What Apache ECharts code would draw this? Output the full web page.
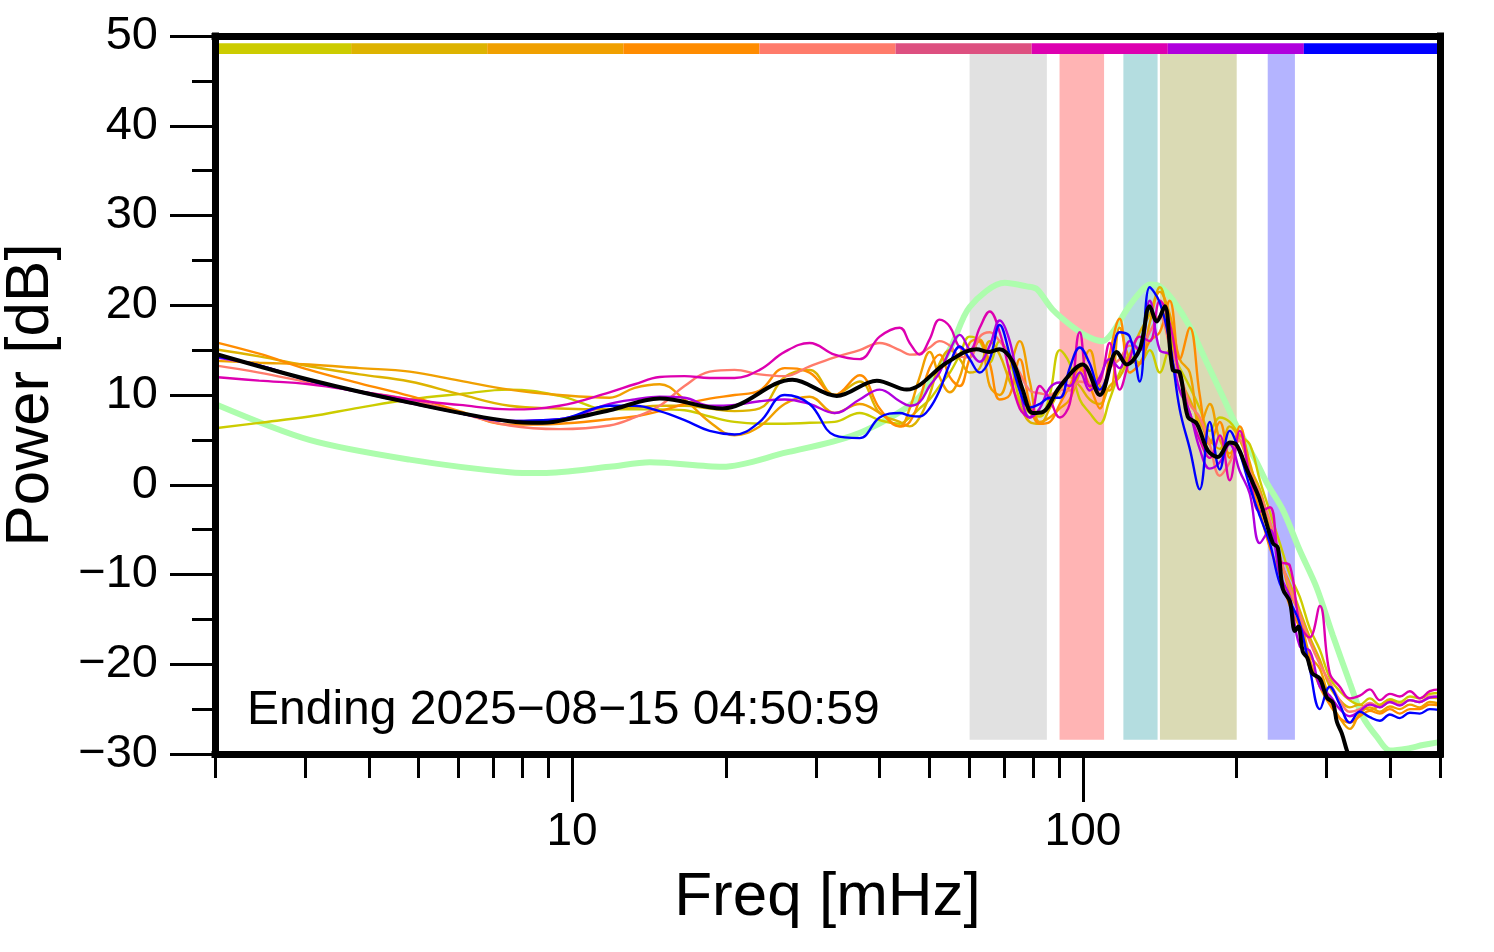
<!DOCTYPE html>
<html><head><meta charset="utf-8">
<script src="https://cdn.jsdelivr.net/npm/echarts@6/dist/echarts.min.js"></script>
<style>html,body{margin:0;padding:0;background:#fff}#c{width:1494px;height:952px}</style>
</head><body><div id="c"></div>
<script>
// ---------- DATA ----------
const annotation = 'Ending 2025\u221208\u221215 04:50:59';
const xTitle = 'Freq [mHz]';
const yTitle = 'Power [dB]';

const minorTickFreqs = [2,3,4,5,6,7,8,9,20,30,40,50,60,70,80,90,200,300,400,500];
const majorTickFreqs = [10,100];

// shared frequency grid (mHz) for the daily spectra
const freqs = [2.0,2.44,3.06,3.84,4.81,6.02,7.54,9.45,
  11.84,13.26,14.84,16.6,18.59,20.8,23.29,26.07,29.17,32.66,36.55,40.0,
  43.8,45.8,47.9,50.1,52.4,54.9,57.4,60.0,62.8,65.7,
  68.7,71.9,75.2,78.7,82.3,86.1,90.1,94.2,98.6,103.1,
  107.9,112.8,118.0,123.5,129.2,135.1,141.4,147.9,154.7,161.9,
  169.3,177.1,185.3,193.8,202.8,212.1,222.0,232.2,242.9,254.1,
  265.8,278.0,290.9,304.2,318.3,333.0,
  348.3,364.4,381.2,398.8,417.2,436.4,456.4,477.5,500];

const day1 = [6.3,6.9,7.6,8.6,9.5,10.1,10.6,9.9,
  8.4,8.4,8.4,8.3,7.6,7.0,6.8,6.8,6.9,7.0,8.0,7.2,
  6.8,7.5,8.5,9.5,11.0,12.5,14.5,16.5,16.0,13.6,
  16.0,14.0,9.5,8.0,7.6,10.0,15.0,13.5,9.5,8.0,
  6.8,9.5,12.5,14.3,13.6,15.0,12.5,15.0,13.0,10.9,
  8.5,6.0,7.5,7.0,5.5,4.5,0.5,-3.0,-6.5,-10.0,
  -12.5,-16.0,-18.4,-21.5,-23.0,-24.0,
  -24.5,-23.8,-24.5,-23.9,-24.2,-23.6,-23.8,-23.3,-23.2];
const day2 = [15.1,14.3,13.2,12.3,11.5,10.1,8.8,8.5,
  8.4,8.6,8.8,8.8,8.5,8.2,8.5,12.0,12.8,10.0,11.5,8.0,
  7.0,6.5,7.5,10.0,13.5,15.0,14.0,12.5,13.0,16.0,
  14.5,11.5,9.0,7.0,6.8,8.5,10.5,12.0,11.0,9.5,
  9.0,11.0,12.0,14.5,17.0,19.0,22.0,17.0,12.0,9.5,
  7.0,5.0,4.0,6.5,5.0,2.0,-0.5,-4.5,-8.5,-11.0,
  -14.0,-17.0,-19.5,-22.5,-24.0,-24.8,
  -24.5,-25.1,-24.6,-24.0,-24.5,-24.0,-24.2,-23.7,-23.8];
const day3 = [13.8,13.6,13.4,13.0,12.6,11.6,10.6,10.0,
  9.7,10.8,11.2,9.5,7.0,5.5,6.5,9.0,9.8,8.0,9.0,8.0,
  6.5,8.5,12.0,14.8,12.0,10.3,12.0,15.8,16.2,11.0,
  10.0,13.0,16.0,11.5,7.0,7.5,8.5,9.5,12.5,15.0,
  11.0,10.5,17.5,14.0,13.5,18.0,21.5,19.0,14.0,12.5,
  6.5,9.0,5.0,3.5,5.5,2.5,-2.0,-5.5,-8.0,-12.0,
  -14.5,-19.0,-20.5,-24.0,-26.0,-27.2,
  -25.5,-24.8,-25.3,-24.7,-25.0,-24.5,-24.8,-24.2,-24.4];
const day4 = [15.9,14.6,12.8,11.3,9.9,8.2,6.7,6.8,
  7.3,7.6,8.2,9.0,9.6,10.0,10.5,13.0,12.5,10.0,12.2,8.5,
  6.5,7.0,9.5,13.0,14.5,12.0,11.0,14.0,16.0,13.5,
  9.5,10.0,14.0,9.0,6.8,7.0,9.0,11.0,13.0,11.0,
  8.5,14.5,18.5,12.5,13.5,16.0,17.0,20.5,14.0,17.5,
  10.0,4.5,7.0,3.0,6.5,1.0,-3.0,-7.0,-10.0,-13.5,
  -16.0,-19.5,-22.5,-24.5,-26.0,-26.5,
  -25.8,-25.2,-25.5,-25.0,-25.5,-25.0,-25.0,-24.5,-24.6];
const day5 = [13.3,12.5,11.4,10.4,9.5,8.0,6.6,6.2,
  6.6,7.5,8.8,11.0,12.6,12.8,12.3,12.1,13.2,14.2,15.0,15.8,
  15.0,14.5,14.6,15.3,16.0,15.5,14.3,14.2,16.5,17.0,
  16.0,14.5,12.5,10.5,10.2,10.0,10.6,10.5,11.5,11.2,
  10.5,13.0,14.0,15.5,15.0,17.0,18.8,15.5,12.5,9.0,
  7.5,4.5,1.0,2.5,5.0,1.5,-1.0,-4.0,-8.0,-11.5,
  -14.5,-17.5,-20.0,-22.0,-24.0,-25.3,
  -25.0,-24.3,-24.8,-24.2,-24.5,-24.0,-24.2,-23.6,-23.7];
const day7 = [12.0,11.6,11.2,10.4,9.5,8.9,8.4,8.8,
  10.3,11.2,12.0,12.1,11.9,11.9,12.8,14.8,15.8,14.5,14.0,16.5,
  17.5,15.8,14.5,16.2,18.4,17.6,15.3,15.0,17.5,19.3,
  17.0,12.5,8.5,7.5,11.0,9.5,7.5,9.0,17.0,11.0,
  11.5,15.8,10.6,14.0,16.5,16.0,20.5,18.0,12.0,8.0,
  5.0,3.0,5.5,0.5,6.0,1.0,-3.0,-2.5,-8.5,-9.0,
  -15.5,-17.0,-13.5,-21.0,-22.5,-23.8,
  -23.5,-22.8,-24.0,-23.3,-23.6,-23.0,-23.8,-23.0,-22.8];
const day8 = [14.2,13.3,11.6,10.3,9.1,8.0,7.1,7.3,
  9.0,9.5,9.8,9.7,8.8,8.9,9.3,9.5,9.0,8.0,9.5,10.6,
  9.3,8.8,9.2,11.0,12.5,15.0,16.7,15.0,13.7,15.5,
  18.3,16.0,10.6,7.5,8.5,10.8,11.4,11.0,12.5,10.5,
  12.0,14.0,13.0,16.0,15.0,20.5,15.0,14.5,10.5,8.0,
  4.0,1.8,2.5,4.5,1.5,-1.0,-6.5,-5.0,-10.0,-12.5,
  -18.0,-18.5,-22.5,-23.5,-25.0,-25.8,
  -25.2,-24.5,-24.8,-24.2,-24.6,-24.0,-24.2,-23.7,-23.6];
const day9 = [14.3,13.3,11.6,10.4,9.2,8.0,7.1,7.3,
  8.8,8.8,8.2,7.2,6.0,5.6,7.0,10.0,9.0,5.5,5.2,7.5,
  8.0,7.7,7.6,8.5,10.5,13.5,15.4,14.0,12.5,14.0,
  17.8,14.5,10.5,8.6,9.0,9.7,9.7,13.0,15.3,13.5,
  10.6,13.0,17.0,16.5,11.5,22.0,20.3,15.8,8.4,4.0,
  -0.5,7.0,1.7,6.0,3.5,-0.2,-3.5,-6.5,-11.0,-13.0,
  -15.5,-20.5,-25.0,-22.5,-24.5,-26.5,
  -25.3,-25.9,-26.3,-25.6,-26.0,-25.4,-25.5,-25.0,-25.1];

// average spectrum [freq mHz, dB]
const averageSpectrum = [[2.0,14.6],[3.06,11.7],[4.81,9.15],[7.54,7.07],[8.75,6.9],[10.2,7.5],[11.84,8.3],
  [14.84,9.6],[19.7,8.5],[27.0,11.7],[32.96,9.9],[39.5,11.6],[45.2,10.6],[54.1,13.6],[61.9,15.1],
  [65.5,14.8],[68.7,15.1],[72.9,13.7],[76.2,10.6],[79.7,8.0],[83.4,8.1],[90.0,10.9],[99.9,13.4],
  [107.9,10.0],[116.5,14.8],[121.8,13.4],[129.2,15.1],[135.1,19.9],[139.5,18.2],[144.6,19.9],
  [149.9,12.8],[154.7,12.5],[160.4,7.6],[167.1,6.8],[175.6,3.8],[183.7,3.1],[193.9,4.7],[200.1,4.4],
  [209.4,1.7],[215.1,0.2],[222.0,-1.7],[235.3,-6.5],[240.7,-7.0],[246.2,-11.6],[254.1,-13.0],
  [260.0,-16.3],[264.0,-15.8],[269.4,-18.6],[275.0,-19.3],[281.0,-21.0],[290.9,-21.6],[300.2,-23.7],
  [308.5,-24.3],[314.1,-26.4],[321.2,-27.7],[328.6,-29.6],[336.1,-31.0]];

// reference spectrum [freq mHz, dB]
const referenceSpectrum = [[2.0,9.0],[3.06,5.0],[4.81,2.8],[7.54,1.4],[8.75,1.3],[11.84,2.0],[14.2,2.5],
  [19.7,2.0],[26.3,3.6],[32.4,4.8],[37.7,6.1],[47.3,9.5],[54.9,15.1],[60.0,19.8],[70.3,22.5],
  [77.6,22.1],[81.2,21.8],[87.3,19.5],[95.5,17.6],[103.1,16.4],[109.3,16.0],[114.4,17.0],[121.8,19.5],
  [129.2,21.4],[135.1,22.3],[141.4,22.1],[149.9,20.6],[161.9,17.6],[174.8,13.6],[187.9,9.8],
  [200.1,6.5],[218.9,2.5],[229.1,0.2],[246.2,-2.8],[265.7,-7.3],[286.9,-11.5],[308.5,-16.8],
  [333.1,-22.1],[353.3,-25.9],[376.3,-28.1],[399.0,-29.6],[430.9,-29.4],[463.0,-29.0],[495.5,-28.7],[500,-28.6]];

const bandRanges = [[60,85],[90,110],[120,140],[141.5,200],[230,260]];
const bandY = [-28.4, 48.0];
const barEdges = [2,3.694,6.822,12.60,23.27,42.98,79.37,146.6,270.7,500];
const barY = [48.0, 49.2];

// ---------- STYLE ----------
const dayColors = ['#cccc00','#ddb300','#f0a000','#ff8c00','#ff7b6b','#dd00b0','#b000dd','#0000ff'];
const barColors = ['#cccc00','#ddb300','#f0a000','#ff8c00','#ff7b6b','#dd5080','#dd00b0','#b000dd','#0000ff'];
const bandColors = ['#e1e1e1','#ffb4b4','#b4dde0','#dadab4','#b4b4ff'];
const FONT = '"Liberation Sans", Arial, Helvetica, sans-serif';

const lg = Math.log10;
const xMinL = lg(2), xMaxL = lg(500);
const minorTickVals = minorTickFreqs.map(lg);
const majorTickVals = majorTickFreqs.map(lg);

const days = [day1, day2, day3, day4, day5, day7, day8, day9];

const chart = echarts.init(document.getElementById('c'));

const areaData = bandRanges.map((r, i) => [
  {xAxis: r[0], yAxis: bandY[0], itemStyle: {color: bandColors[i], opacity: 1}},
  {xAxis: r[1], yAxis: bandY[1]}
]).concat(barColors.map((c, i) => [
  {xAxis: barEdges[i], yAxis: barY[0], itemStyle: {color: c, opacity: 1}},
  {xAxis: barEdges[i + 1], yAxis: barY[1]}
]));

const series = [{
  type: 'line', name: 'reference', data: referenceSpectrum, showSymbol: false, symbol: 'none',
  smooth: 0.3, silent: true, z: 2,
  lineStyle: {color: '#adfdad', width: 6}, itemStyle: {color: '#adfdad'},
  markArea: {silent: true, label: {show: false}, data: areaData}
}];
days.forEach((vals, i) => {
  series.push({
    type: 'line', name: 'day' + i, data: freqs.map((f, j) => [f, vals[j]]),
    showSymbol: false, symbol: 'none', smooth: 0.4, silent: true, z: 2,
    lineStyle: {color: dayColors[i], width: 2.4}, itemStyle: {color: dayColors[i]}
  });
});
series.push({
  type: 'line', name: 'average', data: averageSpectrum, showSymbol: false, symbol: 'none',
  smooth: 0.35, silent: true, z: 3,
  lineStyle: {color: '#000', width: 4}, itemStyle: {color: '#000'}
});

const frameLine = {show: true, onZero: false, lineStyle: {color: '#000', width: 7, cap: 'square'}};

chart.setOption({
  animation: false,
  backgroundColor: '#fff',
  title: {text: annotation, left: 247, top: 687, padding: 0,
    textStyle: {fontSize: 48, fontWeight: 'normal', color: '#000', fontFamily: FONT}},
  grid: {left: 215, right: 54, top: 36, bottom: 198, containLabel: false, outerBoundsMode: 'none'},
  xAxis: [
    {type: 'log', logBase: 10, min: 2, max: 500, position: 'bottom', z: 10,
      axisLine: frameLine, axisTick: {show: false}, axisLabel: {show: false}, splitLine: {show: false}},
    {type: 'value', min: xMinL, max: xMaxL, position: 'bottom', z: 10,
      axisLine: {show: false, onZero: false},
      axisTick: {show: true, customValues: minorTickVals, length: 24, lineStyle: {color: '#000', width: 3}},
      axisLabel: {show: false}, splitLine: {show: false}},
    {type: 'value', min: xMinL, max: xMaxL, position: 'bottom', z: 10,
      name: xTitle, nameLocation: 'middle', nameGap: 113,
      nameTextStyle: {fontSize: 62, color: '#000', fontFamily: FONT},
      axisLine: {show: false, onZero: false},
      axisTick: {show: true, customValues: majorTickVals, length: 48, lineStyle: {color: '#000', width: 3}},
      axisLabel: {show: true, customValues: majorTickVals, margin: 55, fontSize: 46, color: '#000', fontFamily: FONT,
        formatter: v => String(Math.round(Math.pow(10, v)))},
      splitLine: {show: false}},
    {type: 'value', min: 0, max: 1, position: 'top', z: 10,
      axisLine: frameLine, axisTick: {show: false}, axisLabel: {show: false}, splitLine: {show: false}}
  ],
  yAxis: [
    {type: 'value', min: -30, max: 50, interval: 10, position: 'left', z: 10,
      name: yTitle, nameLocation: 'middle', nameGap: 153, nameRotate: 90,
      nameTextStyle: {fontSize: 62, color: '#000', fontFamily: FONT},
      axisLine: frameLine,
      axisTick: {show: true, length: 45, lineStyle: {color: '#000', width: 3}},
      minorTick: {show: true, splitNumber: 2, length: 23, lineStyle: {color: '#000', width: 3}},
      axisLabel: {margin: 57, fontSize: 47, color: '#000', fontFamily: FONT,
        formatter: v => v < 0 ? '\u2212' + Math.abs(v) : String(v)},
      splitLine: {show: false}, minorSplitLine: {show: false}},
    {type: 'value', min: -30, max: 50, position: 'right', z: 10,
      axisLine: frameLine, axisTick: {show: false}, axisLabel: {show: false}, splitLine: {show: false}}
  ],
  series: series
});
</script>
</body></html>
